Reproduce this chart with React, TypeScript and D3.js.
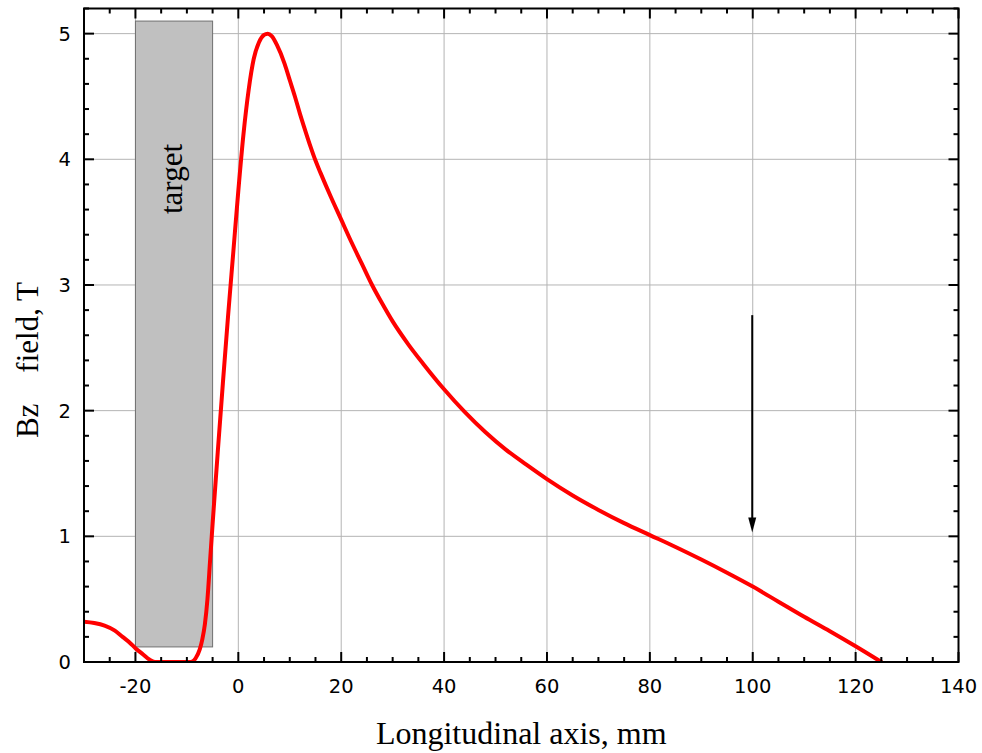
import React from "react";
import * as d3 from "d3";

const xs: number[] = [-30, -28, -26, -24, -22.5, -21, -20, -18.5, -17.3, -16.2, -12, -9.2, -8.3, -7.5, -7, -6.5, -6, -5.5, -5, -4, -3, -2, -1, 0, 1, 2, 3, 4, 5, 5.7, 6.5, 7.5, 9, 10, 11, 12, 13, 14, 15, 16, 18, 20, 22, 24, 26, 28, 30, 33, 36, 40, 44, 48, 52, 56, 60, 65, 70, 75, 80, 85, 90, 95, 100, 105, 110, 115, 120, 125];
const bz: number[] = [0.32, 0.31, 0.29, 0.25, 0.2, 0.15, 0.11, 0.06, 0.02, 0.0, 0.0, 0.0, 0.03, 0.1, 0.18, 0.3, 0.5, 0.8, 1.1, 1.67, 2.22, 2.75, 3.25, 3.75, 4.2, 4.55, 4.8, 4.93, 4.99, 5.0, 4.98, 4.91, 4.76, 4.63, 4.5, 4.36, 4.23, 4.105, 3.99, 3.89, 3.7, 3.52, 3.34, 3.17, 3.0, 2.85, 2.71, 2.53, 2.37, 2.17, 1.99, 1.83, 1.69, 1.57, 1.455, 1.325, 1.21, 1.105, 1.01, 0.915, 0.815, 0.71, 0.6, 0.48, 0.36, 0.245, 0.125, 0.0];

const xTicks: number[] = [-20, 0, 20, 40, 60, 80, 100, 120, 140];
const yTicks: number[] = [0, 1, 2, 3, 4, 5];
const targetX: [number, number] = [-20, -5];
const targetY: [number, number] = [0.12, 5.1];
const arrowX = 100;
const arrowY: [number, number] = [2.76, 1.03];

const W = 982, H = 753;
const L = 84, R = 958.5, T = 8.5, B = 662;

export default function App() {
  const x = d3.scaleLinear().domain([-30, 140]).range([L, R]);
  const y = d3.scaleLinear().domain([0, 5.2]).range([B, T]);
  const pts: [number, number][] = xs.map((v, i) => [v, bz[i]]);
  const line = d3.line<[number, number]>().x(d => x(d[0])).y(d => y(d[1])).curve(d3.curveMonotoneX);
  const xMinor = d3.range(-30, 140.01, 5);
  const yMinor = d3.range(0, 5.201, 0.2);
  const tickFont = "'DejaVu Sans', Verdana, sans-serif";
  const serif = "'Liberation Serif', 'Times New Roman', serif";
  const ax = x(arrowX);
  return (
    <svg width={W} height={H} style={{ position: "absolute", left: 0, top: 0 }}>
      <defs>
        <clipPath id="clip"><rect x={L} y={T} width={R - L} height={B - T} /></clipPath>
      </defs>
      <rect x={0} y={0} width={W} height={H} fill="#fff" />
      {xTicks.filter(t => t < 140).map(t => (
        <line key={"gx" + t} x1={x(t)} x2={x(t)} y1={T} y2={B} stroke="#b4b4b4" strokeWidth={1} />
      ))}
      {yTicks.map(t => (
        <line key={"gy" + t} x1={L} x2={R} y1={y(t)} y2={y(t)} stroke="#b4b4b4" strokeWidth={1} />
      ))}
      <rect x={x(targetX[0])} y={y(targetY[1])} width={x(targetX[1]) - x(targetX[0])} height={y(targetY[0]) - y(targetY[1])} fill="#c0c0c0" stroke="#707070" strokeWidth={1} />
      <text transform={`translate(${(x(targetX[0]) + x(targetX[1])) / 2 + 8},179) rotate(-90)`} textAnchor="middle" fontFamily={serif} fontSize={31} fill="#000">target</text>
      <g clipPath="url(#clip)">
        <path d={line(pts) || ""} fill="none" stroke="#ff0000" strokeWidth={4} strokeLinejoin="round" strokeLinecap="round" />
      </g>
      <line x1={ax - 0.5} x2={ax - 0.5} y1={y(arrowY[0])} y2={y(arrowY[1]) - 14} stroke="#000" strokeWidth={2} />
      <path d={`M${ax - 4.5},${y(arrowY[1]) - 15} L${ax + 3.5},${y(arrowY[1]) - 15} L${ax - 0.5},${y(arrowY[1])} Z`} fill="#000" />
      {xMinor.map(t => {
        const major = Math.abs(t % 20) < 1e-6;
        const len = major ? 10 : 5;
        return (
          <g key={"tx" + t}>
            <line x1={x(t)} x2={x(t)} y1={B} y2={B - len} stroke="#000" strokeWidth={2} />
            <line x1={x(t)} x2={x(t)} y1={T} y2={T + len} stroke="#000" strokeWidth={2} />
          </g>
        );
      })}
      {yMinor.map((t, i) => {
        const major = i % 5 === 0;
        const len = major ? 10 : 5;
        return (
          <g key={"ty" + i}>
            <line x1={L} x2={L + len} y1={y(t)} y2={y(t)} stroke="#000" strokeWidth={2} />
            <line x1={R} x2={R - len} y1={y(t)} y2={y(t)} stroke="#000" strokeWidth={2} />
          </g>
        );
      })}
      <rect x={L} y={T} width={R - L} height={B - T} fill="none" stroke="#000" strokeWidth={2} />
      {xTicks.map(t => (
        <text key={"lx" + t} x={x(t)} y={B + 31} textAnchor="middle" fontFamily={tickFont} fontSize={19.5} fill="#000">{t}</text>
      ))}
      {yTicks.map(t => (
        <text key={"ly" + t} x={L - 13} y={y(t) + 7} textAnchor="end" fontFamily={tickFont} fontSize={19.5} fill="#000">{t}</text>
      ))}
      <text x={(L + R) / 2} y={744} textAnchor="middle" fontFamily={serif} fontSize={32} fill="#000">Longitudinal axis, mm</text>
      <text transform={`translate(38,360) rotate(-90)`} textAnchor="middle" fontFamily={serif} fontSize={31} fill="#000" style={{ whiteSpace: "pre" }}>{"Bz    field, T"}</text>
    </svg>
  );
}
